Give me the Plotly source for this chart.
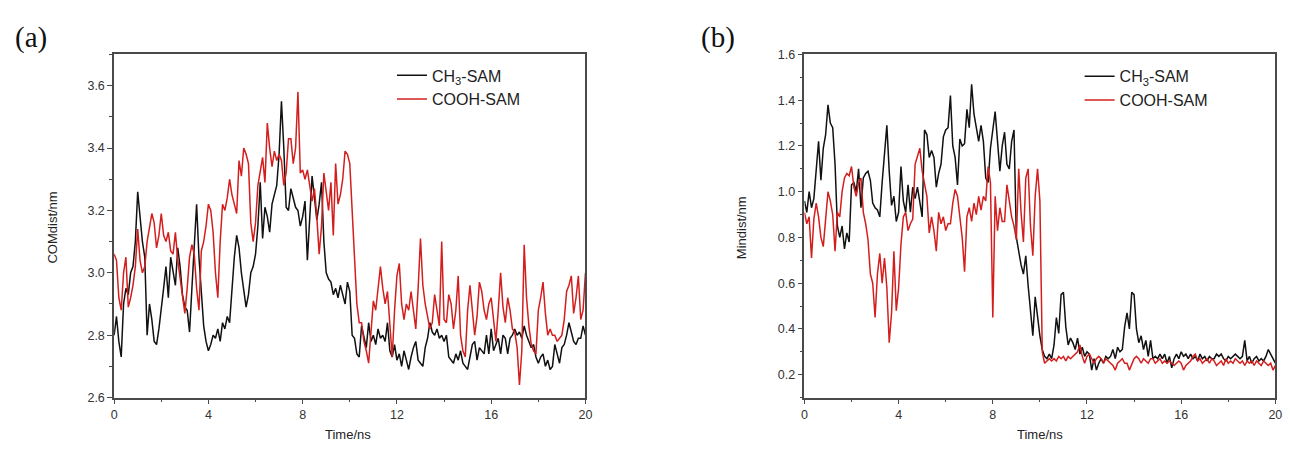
import plotly.graph_objects as go

# time axis (ns), 0.1 ns step
time_ns = [round(i * 0.1, 1) for i in range(201)]

# Panel (a): COM distance (nm)
com_ch3 = [
    2.80, 2.86, 2.78, 2.73, 2.90, 2.95, 2.93, 3.00, 3.02, 3.10, 3.26,
    3.18, 3.10, 3.05, 2.80, 2.90, 2.85, 2.78, 2.77, 2.82, 2.88,
    2.95, 3.02, 2.92, 3.05, 3.00, 2.96, 3.08, 3.02, 2.93, 2.89,
    2.88, 2.81, 2.95, 3.10, 3.22, 3.05, 2.92, 2.83, 2.78, 2.75,
    2.77, 2.80, 2.79, 2.82, 2.78, 2.84, 2.82, 2.86, 2.84, 2.95,
    3.05, 3.12, 3.08, 3.00, 2.95, 2.89, 2.93, 3.00, 3.02, 3.06,
    3.15, 3.29, 3.11, 3.21, 3.18, 3.13, 3.22, 3.25, 3.28, 3.38,
    3.55, 3.40, 3.21, 3.20, 3.27, 3.24, 3.21, 3.20, 3.15, 3.18,
    3.23, 3.04, 3.20, 3.31, 3.24, 3.17, 3.22, 3.29, 3.10, 3.00,
    2.98, 2.97, 2.93, 2.95, 2.92, 2.96, 2.93, 2.90, 2.97, 2.94,
    2.80, 2.79, 2.74, 2.73, 2.83, 2.79, 2.76, 2.84, 2.78, 2.80,
    2.77, 2.82, 2.79, 2.80, 2.78, 2.84, 2.75, 2.73, 2.77, 2.72,
    2.74, 2.70, 2.75, 2.72, 2.69, 2.73, 2.76, 2.78, 2.72, 2.71,
    2.70, 2.76, 2.79, 2.84, 2.81, 2.80, 2.82, 2.79, 2.80, 2.78,
    2.80, 2.73, 2.72, 2.71, 2.74, 2.72, 2.75, 2.71, 2.70, 2.69,
    2.73, 2.77, 2.78, 2.72, 2.76, 2.75, 2.74, 2.80, 2.74, 2.82,
    2.75, 2.77, 2.79, 2.74, 2.80, 2.79, 2.74, 2.79, 2.80, 2.82,
    2.80, 2.81, 2.79, 2.83, 2.80, 2.78, 2.76, 2.77, 2.73, 2.71,
    2.73, 2.74, 2.70, 2.72, 2.69, 2.70, 2.77, 2.74, 2.71, 2.76,
    2.77, 2.80, 2.84, 2.81, 2.78, 2.77, 2.79, 2.79, 2.83, 2.80,
]
com_cooh = [
    3.06, 3.04, 2.92, 2.88, 3.00, 3.05, 2.89, 2.92, 2.96, 3.02, 3.14,
    3.04, 3.00, 3.02, 3.10, 3.15, 3.19, 3.16, 3.08, 3.12, 3.19,
    3.12, 3.10, 3.13, 3.07, 3.06, 3.13, 3.04, 2.98, 2.93, 2.87,
    2.95, 3.05, 3.09, 3.06, 2.95, 2.88, 3.07, 3.10, 3.15, 3.22,
    3.20, 3.13, 3.00, 2.92, 3.10, 3.22, 3.20, 3.24, 3.30, 3.25,
    3.22, 3.19, 3.36, 3.31, 3.40, 3.38, 3.35, 3.16, 3.10, 3.16,
    3.28, 3.33, 3.37, 3.29, 3.48, 3.40, 3.34, 3.39, 3.36, 3.38,
    3.36, 3.28, 3.32, 3.43, 3.43, 3.35, 3.40, 3.58, 3.32, 3.33,
    3.30, 3.33, 3.28, 3.23, 3.27, 3.18, 3.06, 3.15, 3.32, 3.25,
    3.20, 3.29, 3.12, 3.35, 3.22, 3.25, 3.30, 3.39, 3.38, 3.35,
    3.20, 3.06, 2.90, 2.84, 2.84, 2.78, 2.75, 2.71, 2.82, 2.91,
    2.88, 2.96, 3.02, 2.95, 2.90, 2.94, 2.82, 2.73, 2.88, 2.99,
    3.03, 2.90, 2.85, 2.90, 2.88, 2.94, 2.88, 2.82, 2.95, 3.11,
    2.96, 2.90, 2.86, 2.82, 2.84, 2.93, 2.88, 2.83, 3.10, 2.85,
    2.84, 2.93, 2.90, 2.82, 2.88, 2.99, 2.80, 2.75, 2.73, 2.88,
    2.96, 2.88, 2.80, 2.86, 2.97, 2.94, 2.88, 2.85, 2.90, 2.92,
    2.85, 2.78, 2.88, 3.00, 2.89, 2.84, 2.92, 2.88, 2.82, 2.81,
    2.76, 2.64, 2.75, 3.09, 2.92, 2.83, 2.77, 2.75, 2.74, 2.88,
    2.92, 2.97, 2.87, 2.80, 2.82, 2.80, 2.80, 2.78, 2.79, 2.80,
    2.85, 2.94, 2.96, 2.99, 2.87, 2.92, 2.99, 2.85, 2.88, 3.00,
]

# Panel (b): minimum distance (nm)
min_ch3 = [
    0.96, 0.91, 1.00, 0.93, 0.97, 1.10, 1.22, 1.05, 1.19, 1.25, 1.38,
    1.30, 1.28, 1.12, 0.85, 0.80, 0.85, 0.75, 0.82, 0.78, 1.03,
    1.04, 1.00, 1.10, 0.93, 1.06, 1.08, 1.09, 1.05, 0.95, 0.93,
    0.92, 0.89, 1.04, 1.15, 1.29, 1.09, 0.94, 0.98, 0.87, 0.91,
    1.11, 0.96, 0.91, 1.03, 0.91, 1.02, 0.97, 1.02, 0.95, 0.89,
    1.27, 1.25, 1.15, 1.18, 1.15, 1.02, 1.08, 1.12, 1.24, 1.27,
    1.28, 1.42, 1.20, 1.15, 1.03, 1.23, 1.20, 1.21, 1.36, 1.28,
    1.47, 1.34, 1.28, 1.22, 1.29, 1.22, 1.06, 1.04, 1.19, 1.27,
    1.35, 1.22, 1.09, 1.20, 1.26, 1.12, 1.10, 1.22, 1.27, 0.80,
    0.74, 0.68, 0.64, 0.72, 0.59, 0.48, 0.37, 0.54, 0.44, 0.37,
    0.31, 0.28, 0.27, 0.29, 0.27, 0.33, 0.45, 0.38, 0.55, 0.56,
    0.41, 0.33, 0.36, 0.34, 0.31, 0.36, 0.29, 0.32, 0.28, 0.30,
    0.29, 0.22, 0.27, 0.22, 0.25, 0.27, 0.25, 0.28, 0.27, 0.28,
    0.31, 0.27, 0.32, 0.30, 0.31, 0.41, 0.47, 0.40, 0.56, 0.55,
    0.40, 0.34, 0.37, 0.31, 0.35, 0.28, 0.35, 0.27, 0.28, 0.27,
    0.29, 0.27, 0.29, 0.25, 0.28, 0.23, 0.27, 0.29, 0.27, 0.30,
    0.28, 0.29, 0.27, 0.29, 0.27, 0.28, 0.26, 0.29, 0.27, 0.28,
    0.26, 0.28, 0.27, 0.27, 0.29, 0.28, 0.29, 0.27, 0.26, 0.28,
    0.27, 0.28, 0.29, 0.28, 0.27, 0.28, 0.35, 0.26, 0.28, 0.25,
    0.27, 0.28, 0.26, 0.27, 0.26, 0.28, 0.31, 0.29, 0.27, 0.25,
]
min_cooh = [
    0.91, 0.86, 0.89, 0.71, 0.88, 0.95, 0.89, 0.80, 0.76, 0.87, 1.00,
    0.96, 0.90, 0.74, 0.91, 0.89, 1.00, 1.06, 1.08, 1.07, 1.11,
    1.02, 0.98, 1.04, 1.06, 0.91, 0.86, 0.79, 0.64, 0.60, 0.45,
    0.64, 0.73, 0.60, 0.71, 0.58, 0.34, 0.47, 0.74, 0.48, 0.58,
    0.77, 0.89, 0.91, 0.83, 0.86, 0.88, 1.12, 1.15, 1.19, 1.09,
    1.04, 0.98, 0.82, 0.89, 0.83, 0.74, 0.91, 0.86, 0.89, 0.83,
    0.86, 0.86, 0.95, 1.01, 0.98, 0.89, 0.80, 0.65, 0.89, 0.93,
    0.87, 0.95, 0.90, 0.98, 0.92, 0.98, 0.96, 1.11, 1.04, 0.45,
    0.98, 0.83, 0.93, 0.87, 0.87, 1.03, 0.96, 0.89, 0.85, 0.79,
    1.10, 0.91, 0.78, 1.06, 1.10, 0.85, 0.72, 0.98, 1.10, 0.96,
    0.30, 0.25, 0.26, 0.27, 0.26, 0.27, 0.26, 0.28, 0.27, 0.28,
    0.26, 0.28, 0.27, 0.28, 0.29, 0.30, 0.33, 0.28, 0.25, 0.28,
    0.29, 0.27, 0.25, 0.27, 0.28, 0.27, 0.25, 0.27, 0.26, 0.25,
    0.24, 0.22, 0.25, 0.26, 0.27, 0.25, 0.25, 0.22, 0.25, 0.27,
    0.28, 0.27, 0.25, 0.27, 0.26, 0.25, 0.27, 0.27, 0.25, 0.26,
    0.27, 0.25, 0.26, 0.25, 0.26, 0.25, 0.24, 0.25, 0.26, 0.25,
    0.22, 0.24, 0.25, 0.26, 0.28, 0.29, 0.26, 0.27, 0.25, 0.26,
    0.27, 0.25, 0.27, 0.26, 0.24, 0.25, 0.26, 0.24, 0.27, 0.25,
    0.26, 0.25, 0.27, 0.26, 0.25, 0.26, 0.24, 0.26, 0.25, 0.26,
    0.24, 0.26, 0.25, 0.24, 0.26, 0.25, 0.24, 0.25, 0.22, 0.24,
]

series_names = ["CH<sub>3</sub>-SAM", "COOH-SAM"]
x_tick_labels = ["0", "4", "8", "12", "16", "20"]

W, H = 1290, 453
BLACK = "#111111"
RED = "#d41e1e"
AXIS = "#4a4a4a"
FONT = "Liberation Sans, Arial, sans-serif"


def px(x):
    return x / W


def py(y):
    return 1 - y / H


fig = go.Figure()
fig.add_trace(go.Scatter(x=time_ns, y=com_ch3, mode="lines", name=series_names[0],
                         line=dict(color=BLACK, width=1.5), xaxis="x", yaxis="y", legend="legend"))
fig.add_trace(go.Scatter(x=time_ns, y=com_cooh, mode="lines", name=series_names[1],
                         line=dict(color=RED, width=1.5), xaxis="x", yaxis="y", legend="legend"))
fig.add_trace(go.Scatter(x=time_ns, y=min_ch3, mode="lines", name=series_names[0],
                         line=dict(color=BLACK, width=1.5), xaxis="x2", yaxis="y2", legend="legend2"))
fig.add_trace(go.Scatter(x=time_ns, y=min_cooh, mode="lines", name=series_names[1],
                         line=dict(color=RED, width=1.5), xaxis="x2", yaxis="y2", legend="legend2"))

ydom = [py(403), py(49)]
common_x = dict(range=[0, 20], tickvals=[0, 4, 8, 12, 16, 20], ticktext=x_tick_labels,
                ticks="outside", ticklen=5, tickwidth=1.3, tickcolor=AXIS,
                showline=True, linecolor=AXIS, linewidth=1.6, mirror=True,
                showgrid=False, zeroline=False,
                minor=dict(dtick=2, tick0=0, ticks="outside", ticklen=3, tickcolor=AXIS, tickwidth=1.2),
                tickfont=dict(family=FONT, size=12.5, color="#333333"))
common_y = dict(ticks="outside", ticklen=5, tickwidth=1.3, tickcolor=AXIS,
                showline=True, linecolor=AXIS, linewidth=1.6, mirror=True,
                showgrid=False, zeroline=False,
                tickfont=dict(family=FONT, size=12.5, color="#333333"))

fig.update_layout(
    width=W, height=H, autosize=False,
    margin=dict(l=0, r=0, t=0, b=0),
    paper_bgcolor="white", plot_bgcolor="white",
    xaxis=dict(domain=[px(112), px(587)], anchor="y", **common_x),
    yaxis=dict(domain=ydom, anchor="x", range=[2.6, 3.7], tickvals=[2.6, 2.8, 3.0, 3.2, 3.4, 3.6],
               ticktext=["2.6", "2.8", "3.0", "3.2", "3.4", "3.6"],
               minor=dict(dtick=0.1, tick0=2.6, ticks="outside", ticklen=3, tickcolor=AXIS, tickwidth=1.2),
               **common_y),
    xaxis2=dict(domain=[px(807.7), px(1282.3)], anchor="y2", **common_x),
    yaxis2=dict(domain=ydom, anchor="x2", range=[0.1, 1.6], tickvals=[0.2, 0.4, 0.6, 0.8, 1.0, 1.2, 1.4, 1.6],
                ticktext=["0.2", "0.4", "0.6", "0.8", "1.0", "1.2", "1.4", "1.6"],
                minor=dict(dtick=0.1, tick0=0.1, ticks="outside", ticklen=3, tickcolor=AXIS, tickwidth=1.2),
                **common_y),
    legend=dict(x=px(392), y=py(53), xanchor="left", yanchor="top", bgcolor="rgba(0,0,0,0)",
                font=dict(family=FONT, size=16, color="#222222"), tracegroupgap=0, itemwidth=30),
    legend2=dict(x=px(1085), y=py(54), xanchor="left", yanchor="top", bgcolor="rgba(0,0,0,0)",
                 font=dict(family=FONT, size=16, color="#222222"), tracegroupgap=0, itemwidth=30),
    showlegend=True,
)

annos = [
    dict(text="(a)", x=px(28), y=py(31), font=dict(family="Liberation Serif, serif", size=29, color="#111")),
    dict(text="(b)", x=px(721), y=py(31), font=dict(family="Liberation Serif, serif", size=29, color="#111")),
    dict(text="COMdist/nm", x=px(50), y=py(228), textangle=-90, font=dict(family=FONT, size=13, color="#222")),
    dict(text="Mindist/nm", x=px(745), y=py(228), textangle=-90, font=dict(family=FONT, size=13, color="#222")),
    dict(text="Time/ns", x=px(348), y=py(441), font=dict(family=FONT, size=13, color="#222")),
    dict(text="Time/ns", x=px(1045), y=py(441), font=dict(family=FONT, size=13, color="#222")),
]
for a in annos:
    fig.add_annotation(xref="paper", yref="paper", xanchor="center", yanchor="middle", showarrow=False, **a)

fig.write_html("out.html", config={"displayModeBar": False},
               post_script="document.body.style.margin='0';document.body.style.overflow='hidden';")
